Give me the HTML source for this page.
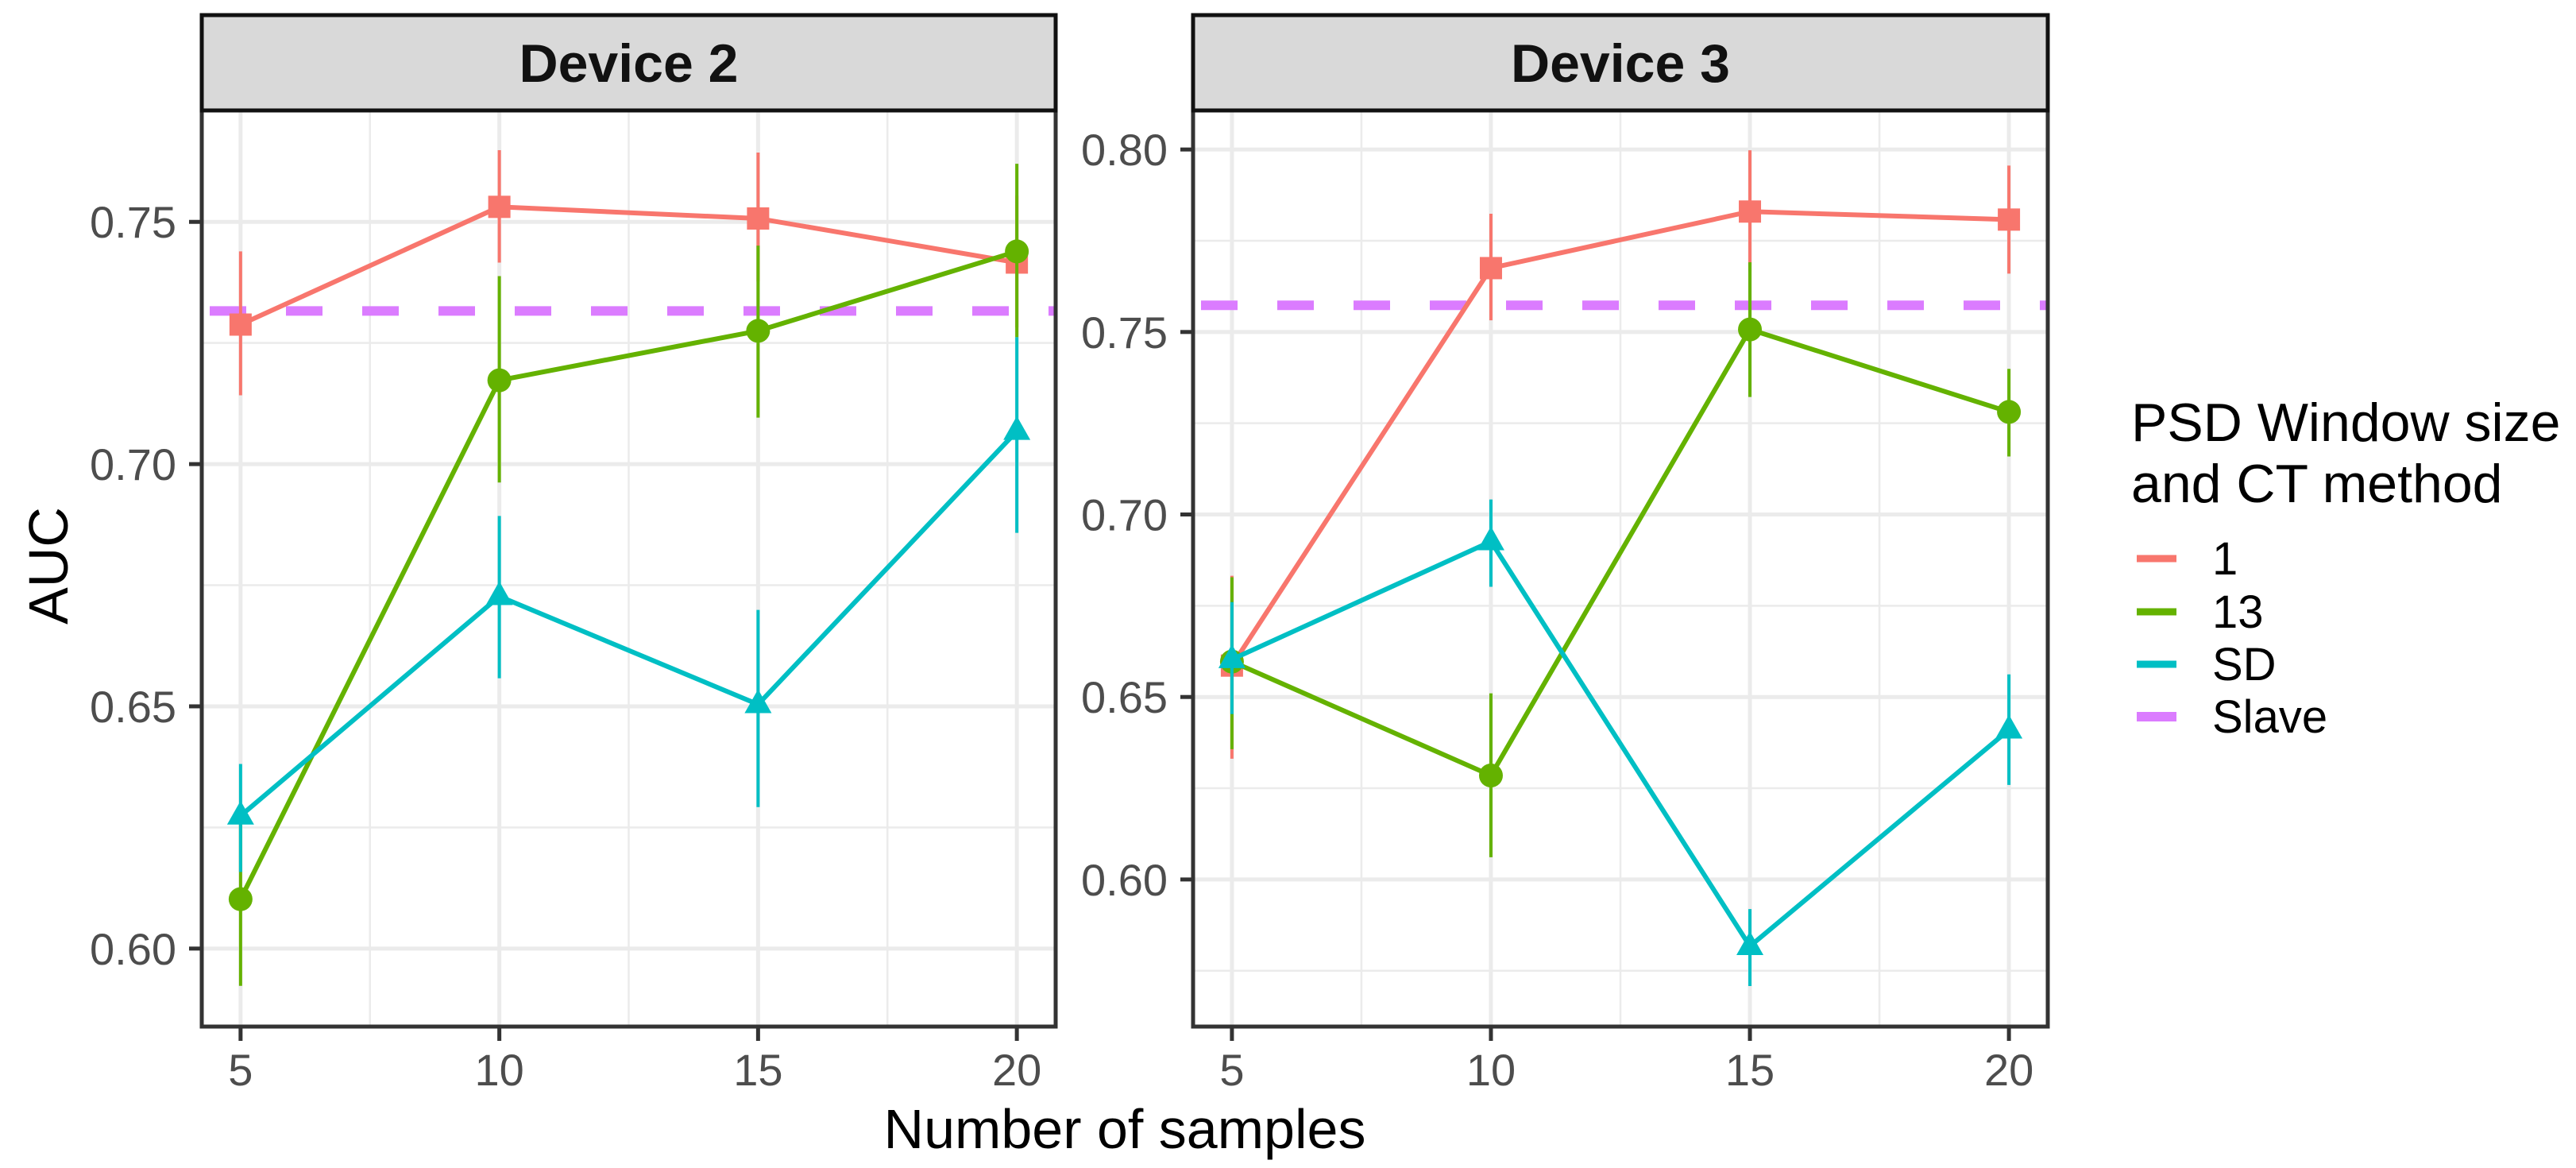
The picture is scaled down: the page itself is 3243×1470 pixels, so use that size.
<!DOCTYPE html>
<html><head><meta charset="utf-8"><style>
html,body{margin:0;padding:0;background:#fff;}
svg{display:block;font-family:"Liberation Sans",sans-serif;}
</style></head><body>
<svg id="chart" width="3243" height="1470" viewBox="0 0 3243 1470" xmlns="http://www.w3.org/2000/svg"></svg>
<script>
const categories = [5, 10, 15, 20];
const seriesNames = ["1", "13", "SD"];
const seriesColors = ["#F8766D", "#64B200", "#00BFC4"];
const slaveColor = "#DB7CFF";
// Device 2
const d2_1 = [0.7288, 0.7531, 0.7507, 0.7416];
const d2_1_lo = [0.7142, 0.7416, 0.7377, 0.7282];
const d2_1_hi = [0.7439, 0.7648, 0.7643, 0.7554];
const d2_13 = [0.6102, 0.7173, 0.7275, 0.7439];
const d2_13_lo = [0.5923, 0.6962, 0.7096, 0.7262];
const d2_13_hi = [0.6266, 0.7388, 0.7451, 0.7620];
const d2_sd = [0.6274, 0.6727, 0.6504, 0.7068];
const d2_sd_lo = [0.6158, 0.6558, 0.6292, 0.6858];
const d2_sd_hi = [0.6381, 0.6893, 0.6699, 0.7262];
const d2_slave = 0.7316;
// Device 3
const d3_1 = [0.6586, 0.7675, 0.7830, 0.7808];
const d3_1_lo = [0.6331, 0.7532, 0.7665, 0.7660];
const d3_1_hi = [0.6832, 0.7824, 0.7998, 0.7956];
const d3_13 = [0.6597, 0.6285, 0.7507, 0.7281];
const d3_13_lo = [0.6357, 0.6061, 0.7322, 0.7159];
const d3_13_hi = [0.6828, 0.6510, 0.7691, 0.7399];
const d3_sd = [0.6603, 0.6926, 0.5817, 0.6410];
const d3_sd_lo = [0.6453, 0.6802, 0.5708, 0.6259];
const d3_sd_hi = [0.6760, 0.7041, 0.5919, 0.6562];
const d3_slave = 0.7573;
const d2Ticks = [0.60, 0.65, 0.70, 0.75];
const d3Ticks = [0.60, 0.65, 0.70, 0.75, 0.80];
const xTicks = [5, 10, 15, 20];

const NS = "http://www.w3.org/2000/svg";
const svg = document.getElementById("chart");
function mk(tag, attrs, parent, txt) {
  const e = document.createElementNS(NS, tag);
  for (const k in attrs) e.setAttribute(k, attrs[k]);
  if (txt !== undefined) e.textContent = txt;
  (parent || svg).appendChild(e);
  return e;
}

const panels = [
  {title: "Device 2", left: 254, right: 1329, ymin: 0.5839, ymax: 0.7730, ticks: d2Ticks,
   series: [[d2_1, d2_1_lo, d2_1_hi], [d2_13, d2_13_lo, d2_13_hi], [d2_sd, d2_sd_lo, d2_sd_hi]], slave: d2_slave},
  {title: "Device 3", left: 1502, right: 2578, ymin: 0.5597, ymax: 0.8107, ticks: d3Ticks,
   series: [[d3_1, d3_1_lo, d3_1_hi], [d3_13, d3_13_lo, d3_13_hi], [d3_sd, d3_sd_lo, d3_sd_hi]], slave: d3_slave}
];
const plotTop = 139, plotBottom = 1292;
const xmin = 4.25, xmax = 20.75;

panels.forEach((p, pi) => {
  const g = mk("g", {}, svg);
  
  
  const xs = v => p.left + (v - xmin) / (xmax - xmin) * (p.right - p.left);
  const ys = v => plotBottom - (v - p.ymin) / (p.ymax - p.ymin) * (plotBottom - plotTop);
  mk("rect", {x: p.left, y: plotTop, width: p.right - p.left, height: plotBottom - plotTop, fill: "#fff"}, g);
  for (let i = 0; i < p.ticks.length + 1; i++) {
    const v = p.ticks[0] - 0.025 + i * 0.05;
    if (v > p.ymin && v < p.ymax) mk("line", {x1: p.left, x2: p.right, y1: ys(v), y2: ys(v), stroke: "#EBEBEB", "stroke-width": 2.5}, g);
  }
  [7.5, 12.5, 17.5].forEach(v => mk("line", {x1: xs(v), x2: xs(v), y1: plotTop, y2: plotBottom, stroke: "#EBEBEB", "stroke-width": 2.5}, g));
  p.ticks.forEach(v => {
    mk("line", {x1: p.left, x2: p.right, y1: ys(v), y2: ys(v), stroke: "#EBEBEB", "stroke-width": 5}, g);
    mk("line", {x1: p.left - 16, x2: p.left, y1: ys(v), y2: ys(v), stroke: "#333", "stroke-width": 5}, g);
    const t = mk("text", {x: p.left - 32, y: ys(v) + 20, "text-anchor": "end", "font-size": 56, fill: "#4D4D4D"}, g, v.toFixed(2));
    
    
  });
  xTicks.forEach(v => {
    mk("line", {x1: xs(v), x2: xs(v), y1: plotTop, y2: plotBottom, stroke: "#EBEBEB", "stroke-width": 5}, g);
    mk("line", {x1: xs(v), x2: xs(v), y1: plotBottom, y2: plotBottom + 18, stroke: "#333", "stroke-width": 5}, g);
    const t = mk("text", {x: xs(v), y: 1366, "text-anchor": "middle", "font-size": 56, fill: "#4D4D4D"}, g, String(v));
    
    
  });
  const sl = mk("line", {x1: p.left, x2: p.right, y1: ys(p.slave), y2: ys(p.slave), stroke: slaveColor, "stroke-width": 12, "stroke-dasharray": "46 50", "stroke-dashoffset": -10}, g);
  
  
  p.series.forEach((s, si) => {
    const [vals, lo, hi] = s;
    const col = seriesColors[si];
    const pts = categories.map((c, i) => xs(c) + "," + ys(vals[i])).join(" ");
    const pl = mk("polyline", {points: pts, fill: "none", stroke: col, "stroke-width": 6}, g);
    
    
    categories.forEach((c, i) => {
      const eb = mk("line", {x1: xs(c), x2: xs(c), y1: ys(lo[i]), y2: ys(hi[i]), stroke: col, "stroke-width": 4}, g);
      
      
      const cx = xs(c), cy = ys(vals[i]);
      let m;
      if (si === 0) m = mk("rect", {x: cx - 14, y: cy - 14, width: 28, height: 28, fill: col}, g);
      else if (si === 1) m = mk("circle", {cx: cx, cy: cy, r: 15, fill: col}, g);
      else m = mk("polygon", {points: `${cx},${cy - 19} ${cx - 17},${cy + 11} ${cx + 17},${cy + 11}`, fill: col}, g);
      
      
    });
  });
  mk("rect", {x: p.left, y: plotTop, width: p.right - p.left, height: plotBottom - plotTop, fill: "none", stroke: "#333", "stroke-width": 5}, g);
  const st = mk("rect", {x: p.left, y: 19, width: p.right - p.left, height: plotTop - 19, fill: "#D9D9D9", stroke: "#111", "stroke-width": 5}, g);
  
  
  const stt = mk("text", {x: (p.left + p.right) / 2, y: 103, "text-anchor": "middle", "font-size": 68, "font-weight": "bold", fill: "#111"}, g, p.title);
  
  
});

const xt = mk("text", {x: 1416, y: 1445, "text-anchor": "middle", "font-size": 70, fill: "#000"}, svg, "Number of samples");


const yt = mk("text", {x: 0, y: 0, "text-anchor": "middle", "font-size": 70, fill: "#000", transform: "translate(85,712) rotate(-90)"}, svg, "AUC");



const lg = mk("g", {}, svg);


mk("text", {x: 2683, y: 555, "font-size": 68, fill: "#000"}, lg, "PSD Window size");
mk("text", {x: 2683, y: 632, "font-size": 68, fill: "#000"}, lg, "and CT method");
const legLabels = ["1", "13", "SD", "Slave"];
const legColors = seriesColors.concat([slaveColor]);
const legY = [703, 770, 836, 902];
legLabels.forEach((l, i) => {
  const e = mk("g", {}, lg);
  
  
  mk("line", {x1: 2690, x2: 2740, y1: legY[i], y2: legY[i], stroke: legColors[i], "stroke-width": i === 3 ? 12 : 9}, e);
  mk("text", {x: 2785, y: legY[i] + 20, "font-size": 58, fill: "#000"}, e, l);
});
</script>
</body></html>
